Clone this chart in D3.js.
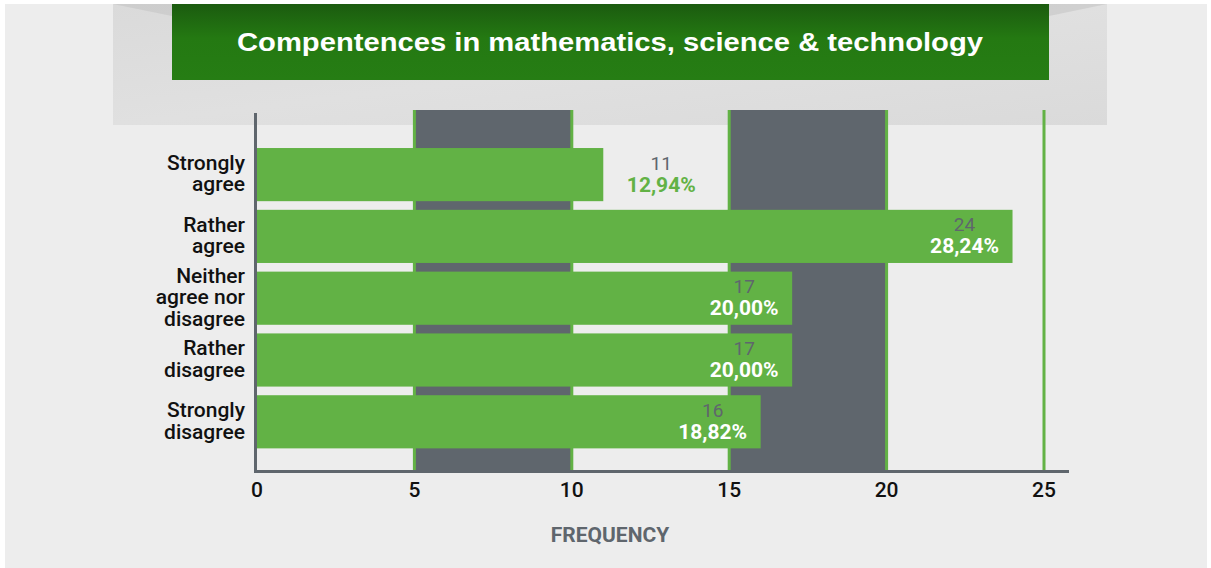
<!DOCTYPE html>
<html>
<head>
<meta charset="utf-8">
<script src="https://cdn.jsdelivr.net/npm/d3@7"></script>
<style>
  html, body { margin: 0; padding: 0; background: #fff; }
  svg { display: block; }
</style>
</head>
<body>
<svg id="chart"></svg>
<script>
// data
const categories = ["Strongly agree", "Rather agree", "Neither agree nor disagree", "Rather disagree", "Strongly disagree"];
const categoryLines = [["Strongly", "agree"], ["Rather", "agree"], ["Neither", "agree nor", "disagree"], ["Rather", "disagree"], ["Strongly", "disagree"]];
const counts = [11, 24, 17, 17, 16];
const xTicks = [0, 5, 10, 15, 20, 25];
const darkBands = [[5, 10], [15, 20]];
const title = "Compentences in mathematics, science & technology";
const axisTitle = "FREQUENCY";

const width = 1211;
const height = 568;
const font = "Roboto, 'DejaVu Sans Condensed', sans-serif";
const green = "#62b245";
const slate = "#5f666d";

const total = d3.sum(counts);
const pctFormat = d3.formatLocale({decimal: ",", thousands: ".", grouping: [3], currency: ["", ""]}).format(".2%");

const svg = d3.select("#chart")
    .attr("width", width)
    .attr("height", height);

// page background
svg.append("rect")
    .attr("x", 5).attr("y", 4)
    .attr("width", width - 9).attr("height", height - 4)
    .attr("fill", "#ededed");

const defs = svg.append("defs");
const greenGrad = defs.append("linearGradient")
    .attr("id", "titleGreen")
    .attr("x1", "0%").attr("y1", "0%").attr("x2", "0%").attr("y2", "100%");
greenGrad.append("stop").attr("offset", "0%").attr("stop-color", "#1b5b0f");
greenGrad.append("stop").attr("offset", "45%").attr("stop-color", "#247912");
greenGrad.append("stop").attr("offset", "100%").attr("stop-color", "#267d14");

const greyGrad = defs.append("linearGradient")
    .attr("id", "headerGrey")
    .attr("x1", "0%").attr("y1", "0%").attr("x2", "100%").attr("y2", "100%");
greyGrad.append("stop").attr("offset", "0%").attr("stop-color", "#dadada");
greyGrad.append("stop").attr("offset", "50%").attr("stop-color", "#e0e0e0");
greyGrad.append("stop").attr("offset", "100%").attr("stop-color", "#dadada");

// header panels
svg.append("rect")
    .attr("x", 113).attr("y", 4)
    .attr("width", 994).attr("height", 121)
    .attr("fill", "url(#headerGrey)");

// faint fold shadows next to the green box
svg.append("path")
    .attr("d", "M113,4 L172,4 L172,16 Z")
    .attr("fill", "#c4c4c4").attr("opacity", 0.6);
svg.append("path")
    .attr("d", "M1107,4 L1049,4 L1049,16 Z")
    .attr("fill", "#c4c4c4").attr("opacity", 0.6);

svg.append("rect")
    .attr("x", 172).attr("y", 4)
    .attr("width", 877).attr("height", 76)
    .attr("fill", "url(#titleGreen)");

svg.append("text")
    .attr("x", 610).attr("y", 51)
    .attr("text-anchor", "middle")
    .attr("textLength", 746)
    .attr("lengthAdjust", "spacingAndGlyphs")
    .style("font-family", "'Liberation Sans', Arial, sans-serif")
    .style("font-size", "25px")
    .style("font-weight", "bold")
    .style("fill", "#fff")
    .text(title);

// scales
const x = d3.scaleLinear().domain([0, 25]).range([257, 1044]);
const y = d3.scaleBand()
    .domain(categories)
    .range([143.7, 452.7])
    .paddingInner(0.14)
    .paddingOuter(0.07);

const plotTop = 110;
const plotBottom = 471;

// dark bands
svg.selectAll(".band")
    .data(darkBands)
    .join("rect")
    .attr("class", "band")
    .attr("x", d => x(d[0]))
    .attr("y", plotTop)
    .attr("width", d => x(d[1]) - x(d[0]))
    .attr("height", plotBottom - plotTop)
    .attr("fill", slate);

// green grid lines
svg.selectAll(".grid")
    .data(xTicks.filter(d => d > 0))
    .join("line")
    .attr("class", "grid")
    .attr("x1", d => x(d)).attr("x2", d => x(d))
    .attr("y1", plotTop).attr("y2", plotBottom)
    .attr("stroke", green)
    .attr("stroke-width", 3);

// bars
svg.selectAll(".bar")
    .data(counts)
    .join("rect")
    .attr("class", "bar")
    .attr("x", x(0))
    .attr("y", (d, i) => y(categories[i]))
    .attr("width", d => x(d) - x(0))
    .attr("height", y.bandwidth())
    .attr("fill", green);

// axes lines
svg.append("line")
    .attr("x1", 255.5).attr("x2", 255.5)
    .attr("y1", 113).attr("y2", 473)
    .attr("stroke", slate).attr("stroke-width", 3);
svg.append("line")
    .attr("x1", 254).attr("x2", 1069)
    .attr("y1", 471.5).attr("y2", 471.5)
    .attr("stroke", slate).attr("stroke-width", 3);

// x tick labels
svg.selectAll(".tick")
    .data(xTicks)
    .join("text")
    .attr("class", "tick")
    .attr("x", d => x(d))
    .attr("y", 497)
    .attr("text-anchor", "middle")
    .style("font-family", font)
    .style("font-size", "21px")
    .style("font-weight", 500)
    .style("fill", "#111")
    .text(d => d);

// category labels
const catGroups = svg.selectAll(".cat")
    .data(categoryLines)
    .join("text")
    .attr("class", "cat")
    .attr("text-anchor", "end")
    .style("font-family", font)
    .style("font-size", "21px")
    .style("font-weight", 500)
    .style("fill", "#111");

catGroups.each(function(lines, i) {
    const cy = y(categories[i]) + y.bandwidth() / 2;
    const lh = 21.5;
    const first = cy + 6 - (lines.length - 1) * lh / 2;
    d3.select(this).selectAll("tspan")
        .data(lines)
        .join("tspan")
        .attr("x", 245)
        .attr("y", (d, j) => first + j * lh)
        .text(d => d);
});

// value labels
const valueGroups = svg.selectAll(".val")
    .data(counts)
    .join("g")
    .attr("class", "val")
    .attr("transform", (d, i) => {
        const cy = y(categories[i]) + y.bandwidth() / 2;
        const cx = d < 12 ? x(d) + 58 : x(d) - 48;
        return `translate(${cx},${cy})`;
    });

valueGroups.append("text")
    .attr("y", -5)
    .attr("text-anchor", "middle")
    .style("font-family", font)
    .style("font-size", "19px")
    .style("fill", slate)
    .text(d => d);

valueGroups.append("text")
    .attr("y", 17)
    .attr("text-anchor", "middle")
    .style("font-family", font)
    .style("font-size", "21px")
    .style("font-weight", "bold")
    .style("fill", d => d < 12 ? green : "#fff")
    .text(d => pctFormat(d / total));

// axis title
svg.append("text")
    .attr("x", 610).attr("y", 542)
    .attr("text-anchor", "middle")
    .style("font-family", font)
    .style("font-size", "21px")
    .style("font-weight", "bold")
    .style("fill", slate)
    .text(axisTitle);
</script>
</body>
</html>
